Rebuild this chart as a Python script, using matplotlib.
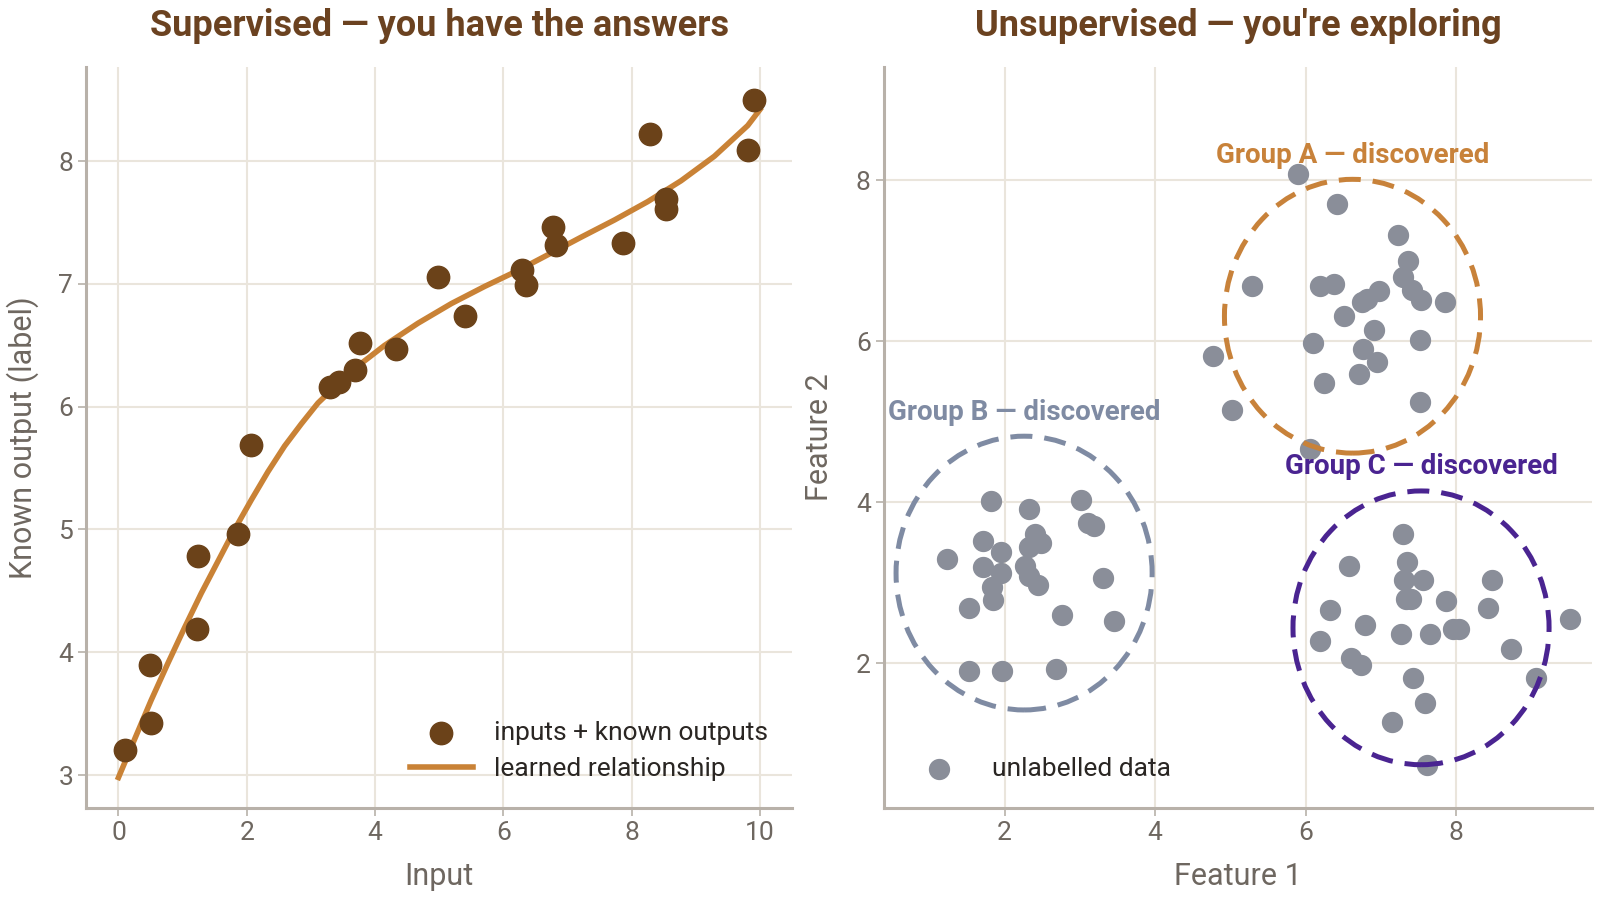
import matplotlib
matplotlib.use('Agg')
import matplotlib.pyplot as plt
from matplotlib.patches import Circle

plt.rcParams['font.family'] = ['Roboto', 'DejaVu Sans']

# ─────────────────────────────────────────────
# Data
# ─────────────────────────────────────────────
sup_x = [0.10, 0.51, 0.49, 1.23, 1.24, 1.87, 2.07, 3.30, 3.44, 3.69, 3.76, 4.33,
         4.98, 5.40, 6.29, 6.35, 6.77, 6.82, 7.87, 8.29, 8.53, 8.53, 9.82, 9.90]
sup_y = [3.20, 3.42, 3.90, 4.19, 4.78, 4.96, 5.69, 6.16, 6.20, 6.30, 6.52, 6.47,
         7.06, 6.74, 7.11, 6.99, 7.46, 7.32, 7.33, 8.22, 7.69, 7.61, 8.09, 8.50]

fit_x = [0.00, 0.25, 0.51, 0.77, 1.03, 1.29, 1.55, 1.81, 2.07, 2.33, 2.59, 2.85,
         3.11, 3.63, 4.15, 4.67, 5.19, 5.71, 6.23, 6.74, 7.21, 7.73, 8.25, 8.77,
         9.29, 9.81, 10.00]
fit_y = [2.98, 3.29, 3.61, 3.91, 4.20, 4.48, 4.74, 5.00, 5.24, 5.47, 5.68, 5.86,
         6.03, 6.29, 6.50, 6.68, 6.84, 6.98, 7.11, 7.25, 7.38, 7.52, 7.67, 7.84,
         8.04, 8.29, 8.42]

grp_a_x = [5.90, 6.42, 7.22, 7.36, 7.29, 5.29, 6.19, 6.37, 6.97, 6.81, 6.75, 7.41, 7.53,
           7.85, 6.51, 6.90, 6.09, 7.51, 4.77, 6.76, 6.95, 6.24, 6.71, 5.02, 7.51, 6.05]
grp_a_y = [8.08, 7.70, 7.32, 6.99, 6.80, 6.68, 6.68, 6.71, 6.62, 6.53, 6.49, 6.63, 6.51,
           6.49, 6.31, 6.14, 5.98, 6.02, 5.82, 5.90, 5.74, 5.48, 5.59, 5.15, 5.24, 4.66]

grp_b_x = [1.82, 2.32, 3.02, 3.11, 3.19, 1.71, 2.41, 2.49, 2.32, 1.95, 1.24, 1.71, 2.27,
           1.95, 2.32, 1.83, 2.44, 3.31, 1.85, 1.53, 2.76, 3.46, 1.53, 1.97, 2.68]
grp_b_y = [4.02, 3.91, 4.03, 3.74, 3.71, 3.52, 3.61, 3.49, 3.44, 3.38, 3.30, 3.20, 3.21,
           3.12, 3.08, 2.95, 2.97, 3.06, 2.78, 2.69, 2.60, 2.52, 1.90, 1.91, 1.93]

grp_c_x = [7.29, 7.34, 6.57, 7.30, 7.56, 8.47, 7.33, 7.40, 7.86, 6.32, 8.42, 6.79, 9.51,
           7.27, 7.65, 7.95, 8.03, 6.19, 8.73, 6.60, 6.73, 7.42, 9.06, 7.58, 7.15, 7.61]
grp_c_y = [3.61, 3.26, 3.21, 3.04, 3.04, 3.04, 2.80, 2.80, 2.77, 2.66, 2.69, 2.47, 2.55,
           2.36, 2.36, 2.42, 2.42, 2.28, 2.18, 2.07, 1.98, 1.82, 1.82, 1.51, 1.27, 0.74]

group_names = ['Group A \u2014 discovered', 'Group B \u2014 discovered', 'Group C \u2014 discovered']
group_cx = [6.62, 2.26, 7.53]
group_cy = [6.31, 3.12, 2.44]
group_r = 1.7
group_colors = ['#C8823A', '#7F8BA3', '#4A2491']

# ─────────────────────────────────────────────
# Style
# ─────────────────────────────────────────────
TITLE_C = '#6B4220'
POINT_C = '#6B4219'
LINE_C = '#C98236'
GRAY_PT = '#8A8E99'
TEXT_C = '#6E6760'
SPINE_C = '#B8B1A9'
GRID_C = '#EAE5DC'


def style_axes(ax):
    for s in ['top', 'right']:
        ax.spines[s].set_visible(False)
    for s in ['left', 'bottom']:
        ax.spines[s].set_color(SPINE_C)
        ax.spines[s].set_linewidth(2.2)
    ax.grid(True, color=GRID_C, linewidth=1.5)
    ax.set_axisbelow(True)
    ax.tick_params(colors=SPINE_C, labelcolor=TEXT_C, labelsize=19, length=6, width=1.2)


fig = plt.figure(figsize=(16, 9), dpi=100)
ax1 = fig.add_axes([0.054, 0.102, 0.441, 0.824])
ax2 = fig.add_axes([0.5525, 0.102, 0.4425, 0.824])

# Left: supervised
style_axes(ax1)
ax1.scatter(sup_x, sup_y, s=260, color=POINT_C, zorder=3, label='inputs + known outputs')
ax1.plot(fit_x, fit_y, color=LINE_C, linewidth=4, zorder=2, label='learned relationship',
         solid_joinstyle='round')
ax1.set_xlim(-0.5, 10.5)
ax1.set_ylim(2.73, 8.77)
ax1.set_xticks([0, 2, 4, 6, 8, 10])
ax1.set_yticks([3, 4, 5, 6, 7, 8])
ax1.set_xlabel('Input', fontsize=22, color=TEXT_C, labelpad=12)
ax1.set_ylabel('Known output (label)', fontsize=22, color=TEXT_C, labelpad=14)
ax1.set_title('Supervised \u2014 you have the answers', fontsize=26, fontweight='bold',
              color=TITLE_C, pad=22)
ax1.legend(loc='lower right', frameon=False, fontsize=19, labelcolor='#2A2623',
           bbox_to_anchor=(1.0, 0.005), handlelength=2.4, handletextpad=0.8,
           labelspacing=0.45)

# Right: unsupervised
style_axes(ax2)
all_x = grp_a_x + grp_b_x + grp_c_x
all_y = grp_a_y + grp_b_y + grp_c_y
ax2.scatter(all_x, all_y, s=205, color=GRAY_PT, zorder=3, label='unlabelled data')
for name, cx, cy, col in zip(group_names, group_cx, group_cy, group_colors):
    ax2.add_patch(Circle((cx, cy), group_r, fill=False, edgecolor=col, linewidth=3.6,
                         linestyle=(0, (4.4, 2.4)), zorder=4))
    ax2.text(cx, cy + group_r + 0.3, name, ha='center', va='center', fontsize=20,
             fontweight='bold', color=col, zorder=5)
ax2.set_xlim(0.4, 9.8)
ax2.set_ylim(0.2, 9.41)
ax2.set_xticks([2, 4, 6, 8])
ax2.set_yticks([2, 4, 6, 8])
ax2.set_xlabel('Feature 1', fontsize=22, color=TEXT_C, labelpad=12)
ax2.set_ylabel('Feature 2', fontsize=22, color=TEXT_C, labelpad=16)
ax2.set_title("Unsupervised \u2014 you're exploring", fontsize=26, fontweight='bold',
              color=TITLE_C, pad=22)
ax2.legend(loc='lower left', frameon=False, fontsize=19, labelcolor='#2A2623',
           bbox_to_anchor=(0.0, 0.005), handlelength=2.4, handletextpad=0.8)

fig.savefig('out.png', dpi=100)
